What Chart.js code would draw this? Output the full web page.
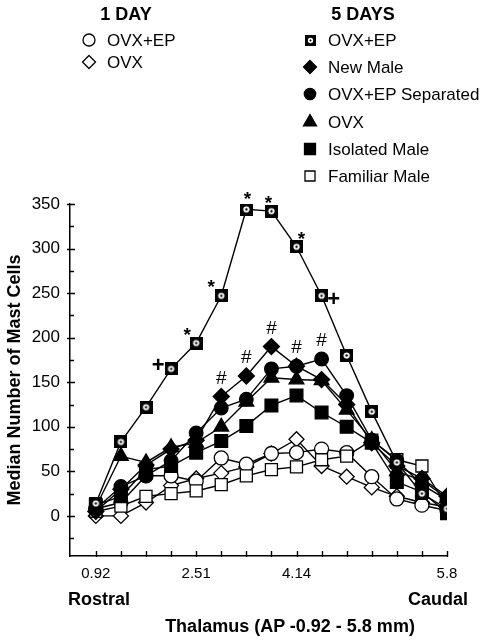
<!DOCTYPE html>
<html><head><meta charset="utf-8">
<script src="https://cdn.jsdelivr.net/npm/chart.js@4/dist/chart.umd.min.js"></script>
<style>
html,body{margin:0;padding:0;background:#fff;}
#wrap{position:relative;width:482px;height:641px;font-family:"Liberation Sans",Arial,Helvetica,sans-serif;color:#000;overflow:hidden;}
#c{position:absolute;left:0;top:0;}
.t{position:absolute;white-space:nowrap;line-height:1;}
.hd{font-weight:bold;font-size:18px;}
.it{font-size:17px;}
.ic{position:absolute;}
</style></head><body>
<div id="wrap"><canvas id="c" width="482" height="641"></canvas></div>
<script>
// ---- data ----
const positions = [0,1,2,3,4,5,6,7,8,9,10,11,12,13,14];
const xTickLabels = ['0.92','','','','2.51','','','','4.14','','','','','','5.8'];
const yTickValues = [0,50,100,150,200,250,300,350];
const yMinorTicks = [-25,25,75,125,175,225,275,325];

const day1OvxEp    = [8, 15, 45, 45, 39, 65, 58, 70, 71, 75, 71, 44, 19, 12, 6];
const day1Ovx      = [0, 0, 15, 34, 42, 48, 55, 70, 86, 56, 44, 32, 22, 15, 10];
const day5OvxEp    = [14, 83, 122, 165, 194, 247, 344, 342, 302, 247, 180, 117, 60, 25, 8];
const newMale      = [5, 30, 57, 75, 85, 134, 157, 190, 168, 153, 125, 82, 56, 42, 22];
const ovxEpSep     = [8, 33, 45, 62, 93, 121, 131, 165, 168, 176, 135, 85, 62, 35, 18];
const ovx5         = [10, 67, 60, 77, 82, 100, 128, 155, 153, 152, 119, 85, 50, 40, 20];
const isolatedMale = [12, 22, 52, 56, 71, 84, 101, 124, 135, 116, 100, 82, 38, 27, 3];
const familiarMale = [5, 11, 22, 25, 28, 35, 45, 52, 55, 63, 67, 85, 63, 56, 10];

const group1Title = '1 DAY';
const group5Title = '5 DAYS';
const group1Names = ['OVX+EP', 'OVX'];
const group5Names = ['OVX+EP', 'New Male', 'OVX+EP Separated', 'OVX', 'Isolated Male', 'Familiar Male'];

const yAxisTitle = 'Median Number of Mast Cells';
const xAxisTitle = 'Thalamus (AP -0.92 - 5.8 mm)';
const xLeftLabel = 'Rostral';
const xRightLabel = 'Caudal';

// significance marks: [dataset key, point index, symbol]
const marks = [
  ['d5', 3, '+'], ['d5', 4, '*'], ['d5', 5, '*'], ['d5', 6, '*'], ['d5', 7, '*'], ['d5', 8, '*'], ['d5', 9, '+'],
  ['nm', 5, '#'], ['nm', 6, '#'], ['nm', 7, '#'], ['sep', 8, '#'], ['sep', 9, '#']
];

// ---- marker drawing ----
function dotSquareCanvas(side){
  const c = document.createElement('canvas');
  c.width = side; c.height = side;
  const g = c.getContext('2d');
  g.fillStyle = '#000'; g.fillRect(0,0,side,side);
  g.fillStyle = '#fff'; g.beginPath(); g.arc(side/2, side/2, side*0.24, 0, Math.PI*2); g.fill();
  g.fillStyle = '#000'; g.beginPath(); g.arc(side/2, side/2, side*0.09, 0, Math.PI*2); g.fill();
  return c;
}
const dotSq = dotSquareCanvas(13);

function drawMarker(g, style, x, y, r, fill){
  g.save();
  g.lineWidth = 1.3; g.strokeStyle = '#000'; g.fillStyle = fill;
  g.beginPath();
  if (style === 'circle') g.arc(x, y, r, 0, Math.PI*2);
  else if (style === 'diamond') { g.moveTo(x, y-r); g.lineTo(x+r, y); g.lineTo(x, y+r); g.lineTo(x-r, y); g.closePath(); }
  else if (style === 'triangle') { g.moveTo(x, y-r); g.lineTo(x+r*0.866, y+r*0.5); g.lineTo(x-r*0.866, y+r*0.5); g.closePath(); }
  else if (style === 'square') { g.rect(x-r, y-r, 2*r, 2*r); }
  if (style === 'dotsq') { g.restore(); g.drawImage(dotSquareCanvas(Math.round(2*r)), Math.round(x-r), Math.round(y-r)); return; }
  g.fill(); g.stroke();
  g.restore();
}

// ---- legend (HTML text + small icon canvases) ----
const wrap = document.getElementById('wrap');
function addText(txt, cls, left, centerY, fs, extra){
  const d = document.createElement('div');
  d.className = 't ' + cls; d.textContent = txt;
  d.style.top = (centerY - 0.49*fs) + 'px';
  if (left !== null) d.style.left = left + 'px';
  if (extra) Object.assign(d.style, extra);
  wrap.appendChild(d);
  return d;
}
function addIcon(style, cx, cy, r, fill){
  const c = document.createElement('canvas');
  c.width = 20; c.height = 20; c.className = 'ic';
  c.style.left = (cx - 10) + 'px'; c.style.top = (cy - 10) + 'px';
  drawMarker(c.getContext('2d'), style, 10, 10, r, fill);
  wrap.appendChild(c);
}
addText(group1Title, 'hd', 126, 13.5, 18, {transform:'translateX(-50%)'});
addText(group5Title, 'hd', 363, 13.5, 18, {transform:'translateX(-50%)'});
const leftIcons = [['circle',6,'#fff'],['diamond',6.5,'#fff']];
const leftY = [40, 62];
group1Names.forEach((n,i)=>{ addIcon(leftIcons[i][0], 89, leftY[i], leftIcons[i][1], leftIcons[i][2]); addText(n, 'it', 107, leftY[i], 17); });
const rightIcons = [['dotsq',5.5,'#000'],['diamond',6.5,'#000'],['circle',5.7,'#000'],['triangle',7.5,'#000'],['square',5.5,'#000'],['square',5,'#fff']];
const rightY = [40, 67, 94, 122, 149, 176];
group5Names.forEach((n,i)=>{ addIcon(rightIcons[i][0], 310, rightY[i], rightIcons[i][1], rightIcons[i][2]); addText(n, 'it', 328, rightY[i], 17); });

addText(xLeftLabel, 'hd', 68, 599, 18);
addText(xRightLabel, 'hd', null, 599, 18, {right:'14px'});
addText(xAxisTitle, 'hd', 290, 626, 18, {transform:'translateX(-50%)'});

// ---- chart ----
function pts(arr){ return arr.map((v,i)=>({x: positions[i], y: v})); }
function ds(key, label, arr, style, radius, fill){
  return { key, label, data: pts(arr), borderColor:'#000', borderWidth:1.4, pointStyle: style, pointRadius: radius, pointHoverRadius: radius,
    pointBackgroundColor: fill, pointBorderColor:'#000', pointBorderWidth:1.3, tension:0, fill:false };
}
const datasets = [
  ds('d5', '5 DAYS ' + group5Names[0], day5OvxEp, dotSq, 7, '#000'),
  ds('nm', '5 DAYS ' + group5Names[1], newMale, 'rectRot', 8, '#000'),
  ds('sep', '5 DAYS ' + group5Names[2], ovxEpSep, 'circle', 6.8, '#000'),
  ds('o5', '5 DAYS ' + group5Names[3], ovx5, 'triangle', 8.5, '#000'),
  ds('iso', '5 DAYS ' + group5Names[4], isolatedMale, 'rect', 9, '#000'),
  ds('fam', '5 DAYS ' + group5Names[5], familiarMale, 'rect', 8.5, '#fff'),
  ds('c1', '1 DAY ' + group1Names[0], day1OvxEp, 'circle', 7, '#fff'),
  ds('dm1', '1 DAY ' + group1Names[1], day1Ovx, 'rectRot', 7.5, '#fff')
];

const extras = {
  id: 'extras',
  afterDraw(chart){
    const g = chart.ctx;
    const xs = chart.scales.x, ys = chart.scales.y;
    g.save();
    g.strokeStyle = '#000'; g.lineWidth = 1.4;
    g.beginPath();
    yTickValues.forEach(v=>{ const y = Math.round(ys.getPixelForValue(v))+0.5; g.moveTo(xs.left-3, y); g.lineTo(xs.left+5, y); });
    yMinorTicks.forEach(v=>{ const y = Math.round(ys.getPixelForValue(v))+0.5; g.moveTo(xs.left, y); g.lineTo(xs.left+4, y); });
    positions.forEach(p=>{ const x = Math.round(xs.getPixelForValue(p))+0.5; g.moveTo(x, ys.bottom+1); g.lineTo(x, ys.bottom-5); });
    g.stroke();
    // significance marks
    g.fillStyle = '#000'; g.textAlign = 'center'; g.textBaseline = 'middle';
    const off = { '*': {font:'bold 19px "Liberation Sans", Arial', dy:-9}, '+': {font:'bold 22px "Liberation Sans", Arial', dy:0}, '#': {font:'19px "Liberation Sans", Arial', dy:-18} };
    const idxOf = {}; chart.data.datasets.forEach((d,i)=>idxOf[d.key]=i);
    const dxy = { 'd5-3':[-13,-3], 'd5-4':[-9,-7], 'd5-5':[-10,-8], 'd5-6':[1,-10], 'd5-7':[-3,-7], 'd5-8':[5,-7], 'd5-9':[12,4] };
    marks.forEach(([k,i,s])=>{
      const p = chart.getDatasetMeta(idxOf[k]).data[i];
      const o = off[s];
      const d = dxy[k+'-'+i] || [0, o.dy];
      g.font = o.font;
      g.fillText(s, p.x + d[0], p.y + d[1]);
    });
    g.restore();
  }
};

new Chart(document.getElementById('c'), {
  type: 'line',
  data: { datasets },
  options: {
    responsive: false, animation: false, devicePixelRatio: 1,
    layout: { padding: { left: 0, right: 35, top: 204, bottom: 55 } },
    plugins: { legend: { display: false }, tooltip: { enabled: false } },
    scales: {
      x: {
        type: 'linear', min: -1.03, max: 14,
        afterBuildTicks(s){ s.ticks = positions.map(v=>({value:v})); },
        afterFit(s){ s.height = 30; },
        grid: { display: false, drawTicks: false },
        border: { display: true, color: '#000', width: 1.5 },
        ticks: { autoSkip: false, maxRotation: 0, padding: 9, color: '#000', font: { family: '"Liberation Sans", Arial', size: 15 },
          callback: (v)=> xTickLabels[v] !== undefined ? xTickLabels[v] : '' }
      },
      y: {
        min: -45, max: 350,
        afterBuildTicks(s){ s.ticks = yTickValues.map(v=>({value:v})); },
        afterFit(s){ s.width = 70; },
        grid: { display: false, drawTicks: false },
        border: { display: true, color: '#000', width: 1.5 },
        ticks: { autoSkip: false, padding: 10, color: '#000', font: { family: '"Liberation Sans", Arial', size: 17 } },
        title: { display: true, text: yAxisTitle, color: '#000', padding: { top: 4, bottom: 0 }, font: { family: '"Liberation Sans", Arial', size: 18, weight: 'bold' } }
      }
    }
  },
  plugins: [extras]
});
</script>
</body></html>
